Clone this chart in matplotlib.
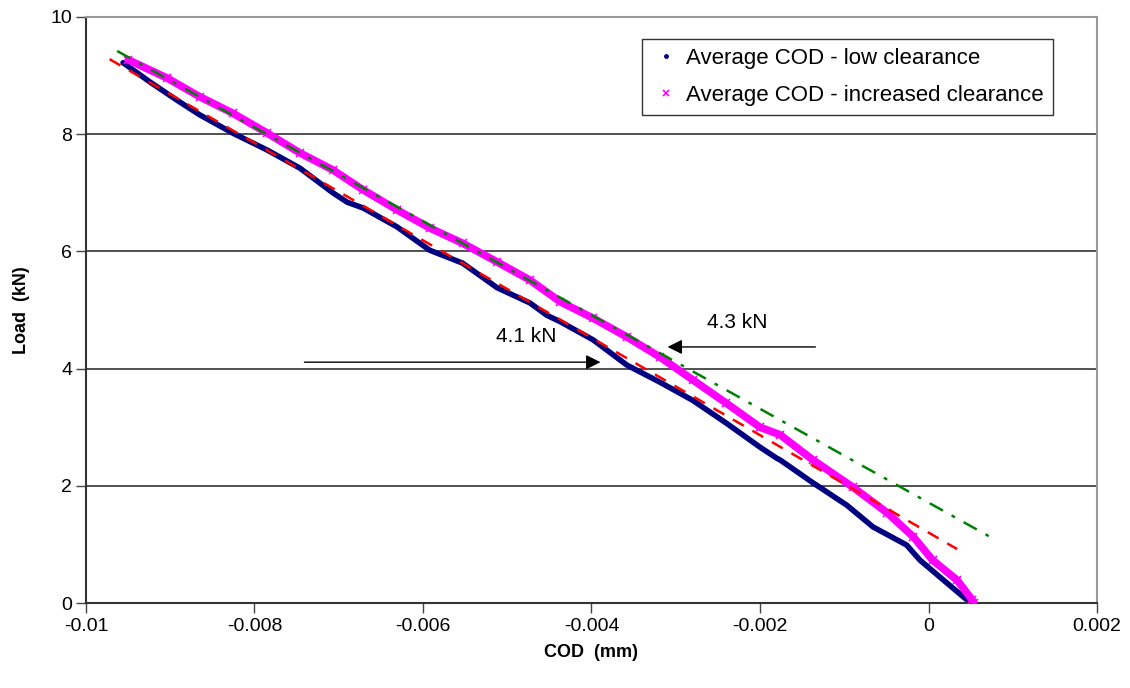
import matplotlib.pyplot as plt
from matplotlib.lines import Line2D

plt.rcParams['font.family'] = ['Liberation Sans', 'DejaVu Sans']

# Average COD - low clearance
cod_low = [-0.00956, -0.00924, -0.00892, -0.00865, -0.00826, -0.00785, -0.00746,
           -0.00707, -0.0069, -0.00671, -0.00631, -0.00592, -0.00553, -0.00512,
           -0.00473, -0.00453, -0.00437, -0.00398, -0.00358, -0.00319, -0.0028,
           -0.0024, -0.002, -0.0018, -0.00176, -0.00137, -0.00097, -0.00066,
           -0.00026, -0.0001, 0.00022, 0.00046, 0.0005]
load_low = [9.22, 8.89, 8.58, 8.33, 8.02, 7.73, 7.42,
            7.0, 6.84, 6.74, 6.42, 6.02, 5.80, 5.38,
            5.12, 4.91, 4.80, 4.49, 4.06, 3.77, 3.46,
            3.07, 2.66, 2.47, 2.44, 2.05, 1.67, 1.30,
            0.99, 0.73, 0.34, 0.05, 0.0]

# Average COD - increased clearance
cod_inc = [-0.0095, -0.00904, -0.00865, -0.00826, -0.00785, -0.00746, -0.00707,
           -0.00671, -0.00631, -0.00592, -0.00553, -0.00512, -0.00473, -0.00437,
           -0.00398, -0.00358, -0.00319, -0.0028, -0.0024, -0.002, -0.00176,
           -0.00137, -0.0009, -0.00049, -0.00018, 0.00005, 0.00034, 0.00052, 0.00054]
load_inc = [9.27, 8.96, 8.64, 8.36, 8.02, 7.68, 7.39,
            7.05, 6.71, 6.40, 6.14, 5.82, 5.51, 5.14,
            4.86, 4.54, 4.20, 3.81, 3.41, 3.0, 2.87,
            2.44, 1.98, 1.54, 1.13, 0.73, 0.39, 0.05, 0.0]

# linear fits (end points)
fit_low_x = [-0.00972, 0.00034]
fit_low_y = [9.28, 0.92]
fit_inc_x = [-0.00963, 0.00073]
fit_inc_y = [9.42, 1.13]

fig = plt.figure(figsize=(11.3, 6.88), dpi=100)
ax = fig.add_axes([0.0761, 0.1235, 0.8947, 0.8518])

ax.plot(cod_inc, load_inc, color='#FF00FF', lw=5.5, solid_capstyle='round', zorder=3)
ax.plot(cod_inc, load_inc, ls='none', marker='x', ms=6, mew=1.2, color='#FF00FF', zorder=3)
ax.plot(cod_low, load_low, color='#000080', lw=4, solid_capstyle='round', zorder=2)
ax.plot(fit_low_x, fit_low_y, color='red', lw=1.8, dashes=(5, 4), zorder=4)
ax.plot(fit_inc_x, fit_inc_y, color='#008000', lw=1.8, dashes=(6, 4, 1.5, 4), zorder=4)

# arrows
ax.annotate('', xy=(-0.00386, 4.11), xytext=(-0.00744, 4.11),
            arrowprops=dict(arrowstyle='-|>', color='black', lw=1, mutation_scale=22))
ax.text(-0.00477, 4.54, '4.1 kN', fontsize=15, ha='center', va='center')
ax.annotate('', xy=(-0.00313, 4.37), xytext=(-0.00131, 4.37),
            arrowprops=dict(arrowstyle='-|>', color='black', lw=1, mutation_scale=22))
ax.text(-0.00227, 4.78, '4.3 kN', fontsize=15, ha='center', va='center')

ax.set_xlim(-0.01, 0.002)
ax.set_ylim(0, 10)
ax.set_xticks([-0.01, -0.008, -0.006, -0.004, -0.002, 0, 0.002])
ax.set_xticklabels(['-0.01', '-0.008', '-0.006', '-0.004', '-0.002', '0', '0.002'])
ax.set_yticks([0, 2, 4, 6, 8, 10])
ax.tick_params(labelsize=14, length=7, width=1, direction='out', color='#444444')
ax.tick_params(axis='x', pad=4)
ax.tick_params(axis='y', pad=3)
ax.yaxis.grid(True, color='#333333', lw=1.2)
ax.set_axisbelow(True)

for s in ['left', 'bottom']:
    ax.spines[s].set_color('#333333')
    ax.spines[s].set_linewidth(1.5)
for s in ['top', 'right']:
    ax.spines[s].set_color('#999999')
    ax.spines[s].set_linewidth(1.5)

ax.set_xlabel('COD  (mm)', fontsize=13, fontweight='bold', labelpad=6)
ax.set_ylabel('Load  (kN)', fontsize=13, fontweight='bold', labelpad=15)

handles = [Line2D([], [], ls='none', marker='.', ms=5, color='#000080'),
           Line2D([], [], ls='none', marker='x', ms=4, mew=1.2, color='#FF00FF')]
leg = ax.legend(handles, ['Average COD - low clearance', 'Average COD - increased clearance'],
                loc='upper left', bbox_to_anchor=(0.550, 0.962), fontsize=16,
                frameon=True, fancybox=False, edgecolor='black', handlelength=1.4,
                handletextpad=0.2, borderpad=0.4, labelspacing=0.7, borderaxespad=0)
leg.get_frame().set_linewidth(1)

fig.savefig('out.png', dpi=100)
